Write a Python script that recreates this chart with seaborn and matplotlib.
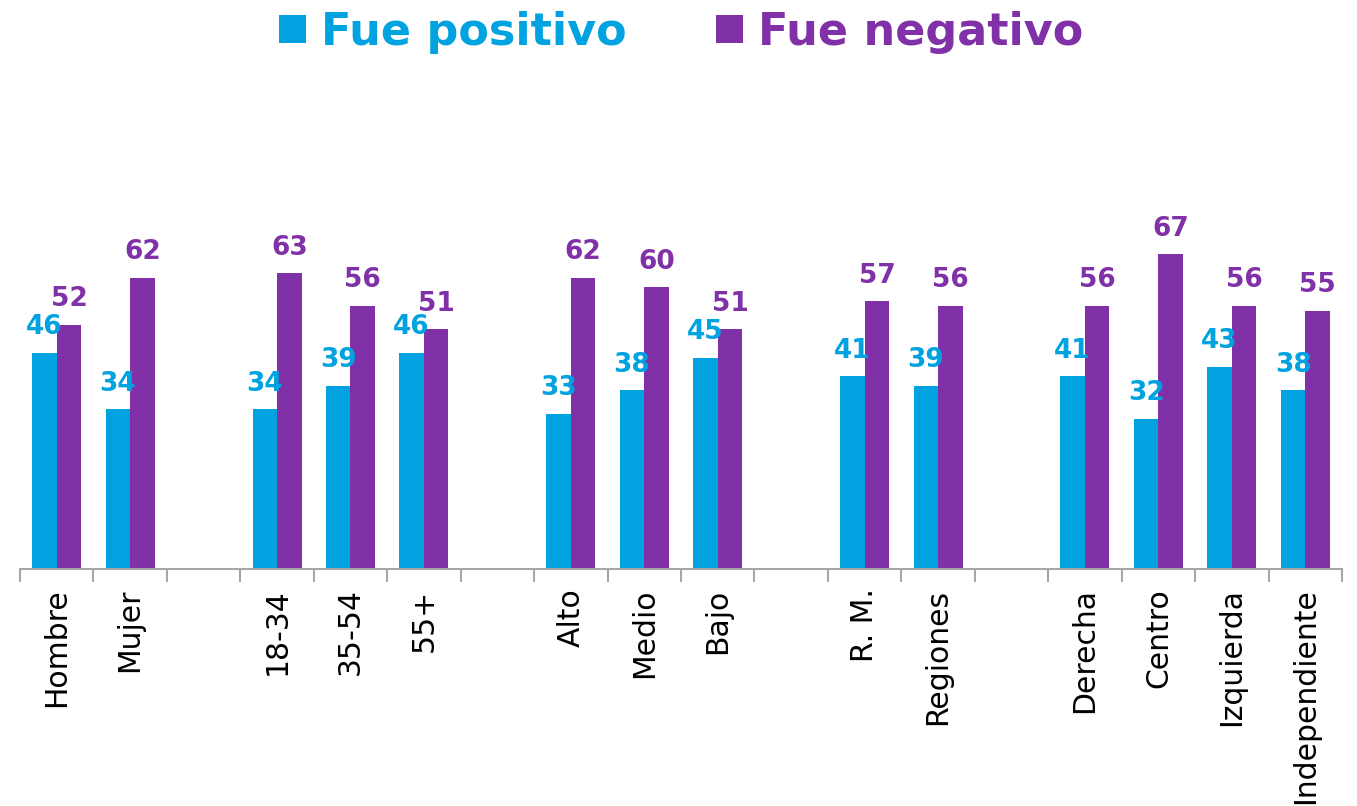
import numpy as np
import pandas as pd
import matplotlib
matplotlib.use("Agg")
import matplotlib.pyplot as plt
from matplotlib.patches import Patch
import seaborn as sns

# slots on the x axis; blanks are the gaps between groups
slots = ["Hombre", "Mujer", "_g1", "18-34", "35-54", "55+", "_g2",
         "Alto", "Medio", "Bajo", "_g3", "R. M.", "Regiones", "_g4",
         "Derecha", "Centro", "Izquierda", "Independiente"]
categories = ["Hombre", "Mujer", "18-34", "35-54", "55+", "Alto", "Medio", "Bajo",
              "R. M.", "Regiones", "Derecha", "Centro", "Izquierda", "Independiente"]
positivo = [46, 34, 34, 39, 46, 33, 38, 45, 41, 39, 41, 32, 43, 38]
negativo = [52, 62, 63, 56, 51, 62, 60, 51, 57, 56, 56, 67, 56, 55]
series = ["Fue positivo", "Fue negativo"]
colors = ["#00A3DF", "#8031A7"]

df = pd.DataFrame({
    "categoria": categories * 2,
    "serie": [series[0]] * len(categories) + [series[1]] * len(categories),
    "valor": positivo + negativo,
})

sns.set_theme(style="white")
plt.rcParams["font.family"] = ["DejaVu Sans"]

fig = plt.figure(figsize=(13.57, 8.06), dpi=100)
ax = fig.add_axes([0.0147, 0.294, 0.9743, 0.583])

sns.barplot(data=df, x="categoria", y="valor", hue="serie", order=slots,
            hue_order=series, palette=colors, width=0.667, saturation=1,
            linewidth=0, legend=False, ax=ax)

for cont, col in zip(ax.containers, colors):
    ax.bar_label(cont, fmt="%.0f", padding=9, color=col,
                 fontsize=19, fontweight="bold")

ax.set_ylim(0, 100)
ax.set_xlim(-0.5, len(slots) - 0.5)
ax.set_xlabel("")
ax.set_ylabel("")
ax.set_yticks([])
for s in ["top", "right", "left"]:
    ax.spines[s].set_visible(False)
ax.spines["bottom"].set_color("#A6A6A6")
ax.spines["bottom"].set_linewidth(1.5)

ax.set_xticks(range(len(slots)))
ax.set_xticklabels([("" if s.startswith("_") else s) for s in slots],
                   rotation=90, fontsize=21.5, color="black")
ax.tick_params(axis="x", which="major", length=0, pad=14)
ax.set_xticks(np.arange(-0.5, len(slots), 1.0), minor=True)
ax.tick_params(axis="x", which="minor", length=9, width=1.5, color="#A6A6A6",
               bottom=True)

handles = [Patch(facecolor=c, edgecolor="none") for c in colors]
leg = fig.legend(handles, series, loc="center", bbox_to_anchor=(0.502, 0.96),
                 ncol=2, frameon=False, fontsize=32, handlelength=0.6,
                 handleheight=0.6, handletextpad=0.35, columnspacing=2.0)
for txt, c in zip(leg.get_texts(), colors):
    txt.set_color(c)
    txt.set_fontweight("bold")

fig.savefig("out.png", dpi=100)
